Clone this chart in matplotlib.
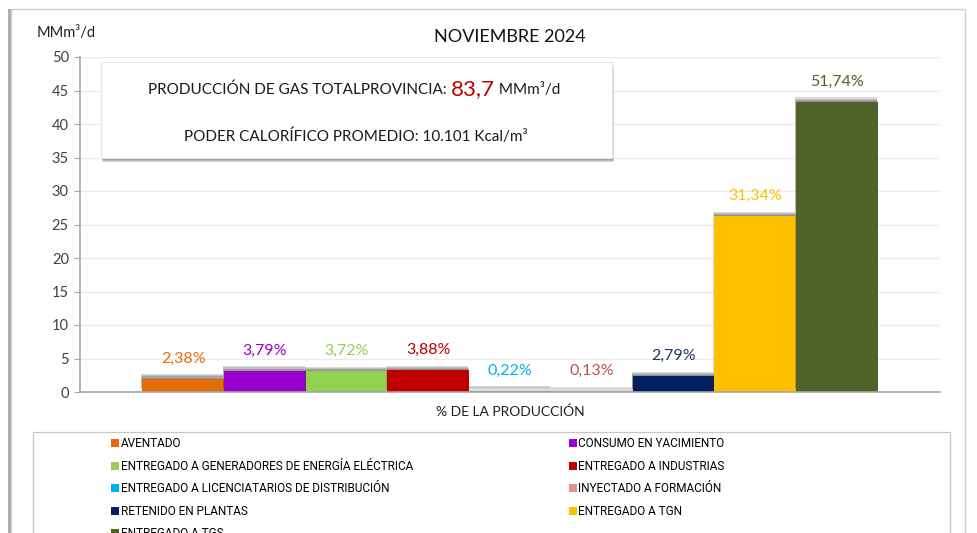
import numpy as np
import matplotlib.pyplot as plt
from matplotlib.patches import Rectangle, Patch
from matplotlib.text import Annotation
import matplotlib.patheffects as pe

# ------------------------------
# Data
# ------------------------------
total = 83.7
categories = ["AVENTADO", "CONSUMO EN YACIMIENTO",
              "ENTREGADO A GENERADORES DE ENERGÍA ELÉCTRICA", "ENTREGADO A INDUSTRIAS",
              "ENTREGADO A LICENCIATARIOS DE DISTRIBUCIÓN", "INYECTADO A FORMACIÓN",
              "RETENIDO EN PLANTAS", "ENTREGADO A TGN", "ENTREGADO A TGS"]
percent = [2.38, 3.79, 3.72, 3.88, 0.22, 0.13, 2.79, 31.34, 51.74]
pct_labels = ["2,38%", "3,79%", "3,72%", "3,88%", "0,22%", "0,13%", "2,79%", "31,34%", "51,74%"]
bar_colors = ["#E46C0A", "#9900CC", "#92D050", "#C00000", "#00B0F0",
              "#D99694", "#002060", "#FFC000", "#4F6228"]
label_colors = ["#E46C0A", "#9900CC", "#92D050", "#C00000", "#00B0F0",
                "#C0504D", "#1F3864", "#FFC000", "#4F6228"]
yticks = [0, 5, 10, 15, 20, 25, 30, 35, 40, 45, 50]

values = np.array(percent) * total / 100.0

plt.rcParams["font.family"] = ["Lato", "DejaVu Sans"]

W, H = 977, 533
fig = plt.figure(figsize=(W / 100, H / 100), dpi=100)

def fx(px):
    return px / W

def fy(py):
    return 1 - py / H

def soft_shadow(dx, dy, alpha=0.12, steps=4):
    # stack of faint shadows to fake a blurred drop shadow
    effs = [pe.SimplePatchShadow(offset=(dx * k / steps, dy * k / steps),
                                 shadow_rgbFace="#404040", alpha=alpha)
            for k in range(steps, 0, -1)]
    return effs + [pe.Normal()]

# outer chart frame
frame = Rectangle((fx(11), fy(560)), fx(954), 551 / H, transform=fig.transFigure,
                  facecolor="white", edgecolor="#D0D0D0", lw=1.0, zorder=-10,
                  path_effects=[pe.SimplePatchShadow(offset=(-2, 0), shadow_rgbFace="#9A9A9A", alpha=0.8),
                                pe.Normal()])
fig.add_artist(frame)

ax = fig.add_axes([fx(80), fy(392), fx(940) - fx(80), fy(57) - fy(392)])
ax.set_facecolor("none")

x = np.arange(len(values))
bars = ax.bar(x, values, width=1.0, color=bar_colors, zorder=3,
              path_effects=soft_shadow(-0.8, 3.2, alpha=0.19))

for xi, v, lab, c in zip(x, values, pct_labels, label_colors):
    ax.annotate(lab, (xi, v), xytext=(0, 14.5), textcoords="offset points",
                ha="center", va="center", fontsize=11.5, color=c, zorder=5)

ax.set_xlim(-0.5 - 0.76, len(values) - 0.5 + 0.76)
ax.set_ylim(0, 50)
ax.set_yticks(yticks)
ax.yaxis.grid(True, color="#EBEBEB", lw=1.0, zorder=0)
ax.set_axisbelow(True)
ax.set_xticks([])
for s in ["top", "right"]:
    ax.spines[s].set_visible(False)
ax.spines["left"].set_color("#A6A6A6")
ax.spines["bottom"].set_color("#A6A6A6")
ax.spines["left"].set_linewidth(1.2)
ax.spines["bottom"].set_linewidth(1.2)
ax.spines["bottom"].set_zorder(4)
ax.tick_params(axis="y", direction="out", length=4, color="#A6A6A6", labelsize=10.5,
               labelcolor="#404040", pad=4)

ax.set_xlabel("% DE LA PRODUCCIÓN", fontsize=10, color="#202020", labelpad=10)

# title and unit
fig.text(fx(510), fy(37), "NOVIEMBRE 2024", ha="center", va="center", fontsize=13, color="#111111")
fig.text(fx(37), fy(33), "MMm³/d", ha="left", va="center", fontsize=10.5, color="#202020")

# info box
box = Rectangle((fx(101), fy(158)), fx(612) - fx(101), fy(62) - fy(158), transform=fig.transFigure,
                facecolor="white", edgecolor="#E6E6E6", lw=0.8, zorder=6,
                path_effects=soft_shadow(1.2, -3.2, alpha=0.2))
fig.add_artist(box)
t1 = fig.text(fx(148), fy(90), "PRODUCCIÓN DE GAS TOTALPROVINCIA: ", ha="left", va="center",
              fontsize=11, color="#1A1A1A", zorder=7)
t2 = Annotation(f"{total:.1f}".replace(".", ","), xy=(1, 0), xycoords=t1, xytext=(0, -1),
                textcoords="offset points", va="bottom", ha="left", fontsize=16,
                color="#C00000", annotation_clip=False, zorder=7)
fig.add_artist(t2)
t3 = Annotation(" MMm³/d", xy=(1, 0), xycoords=t2, xytext=(0, 1), textcoords="offset points",
                va="bottom", ha="left", fontsize=11, color="#1A1A1A", annotation_clip=False, zorder=7)
fig.add_artist(t3)
fig.text(fx(356), fy(136), "PODER CALORÍFICO PROMEDIO: 10.101 Kcal/m³", ha="center", va="center",
         fontsize=11, color="#1A1A1A", zorder=7)

# legend
lframe = Rectangle((fx(33), fy(560)), fx(950) - fx(33), fy(432) - fy(560), transform=fig.transFigure,
                   facecolor="white", edgecolor="#C8C8C8", lw=0.9, zorder=-5)
fig.add_artist(lframe)
handles = [Patch(facecolor=c, edgecolor="none") for c in bar_colors]
order = [0, 2, 4, 6, 8, 1, 3, 5, 7]
leg = fig.legend([handles[i] for i in order], [categories[i] for i in order],
                 loc="upper left", bbox_to_anchor=(fx(102), fy(428)), ncol=2, frameon=False,
                 prop={"family": ["Liberation Sans Narrow", "Roboto"], "size": 8.5},
                 handlelength=0.65, handleheight=0.65, handletextpad=0.15,
                 labelspacing=0.8, columnspacing=13.2, borderpad=0.3)

fig.savefig("out.png", dpi=100)
